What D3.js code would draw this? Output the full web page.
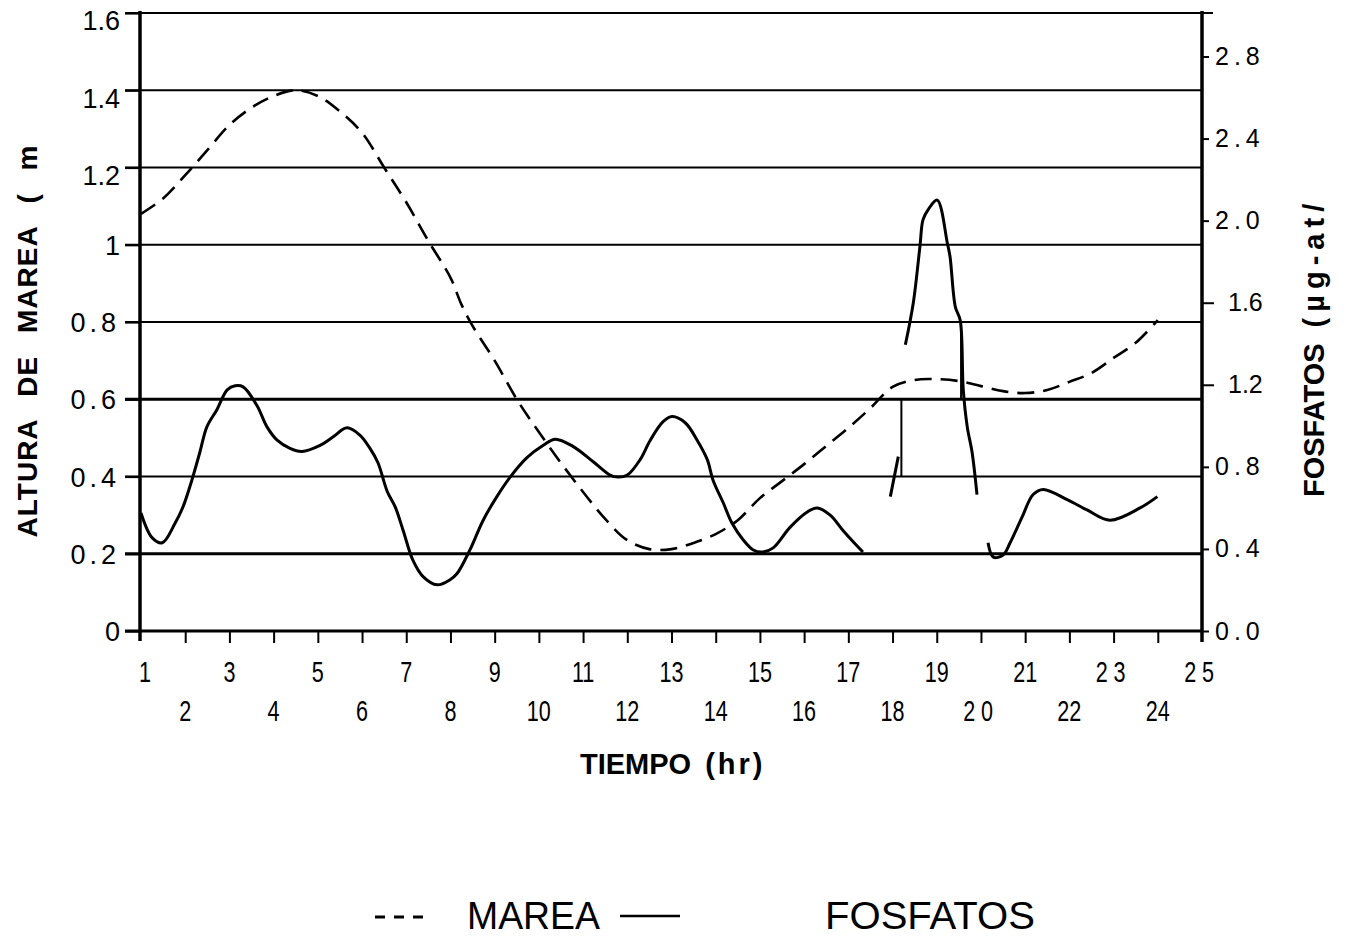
<!DOCTYPE html>
<html>
<head>
<meta charset="utf-8">
<script src="https://cdn.jsdelivr.net/npm/d3@7"></script>
<style>
  body { margin: 0; background: #fff; }
  text { fill: #000; }
</style>
</head>
<body>
<div id="chart"></div>
<script>
// ── Data ────────────────────────────────────────────────────
const horas      = d3.range(1, 26);                 // x ticks 1..25
const leftTicks  = [0, 0.2, 0.4, 0.6, 0.8, 1, 1.2, 1.4, 1.6];
const leftLabels = ["0", "0.2", "0.4", "0.6", "0.8", "1", "1.2", "1.4", "1.6"];
const rightTicks  = [0, 0.4, 0.8, 1.2, 1.6, 2.0, 2.4, 2.8];
const rightLabels = ["0.0", "0.4", "0.8", "1.2", "1.6", "2.0", "2.4", "2.8"];

// MAREA (m) — dashed, left axis
const mareaHora   = [1, 1.5, 2, 2.5, 3, 3.5, 4, 4.5, 5, 5.5, 6, 6.5, 7, 7.5, 8, 8.25, 8.5,
                     9, 9.5, 10, 10.5, 11, 11.5, 12, 12.5, 13, 13.5, 14, 14.5, 15, 15.5, 16,
                     16.5, 17, 17.5, 18, 18.5, 19, 19.5, 20, 20.5, 21, 21.5, 22, 22.5, 23, 23.5, 24];
const mareaAltura = [1.08, 1.12, 1.18, 1.245, 1.31, 1.355, 1.385, 1.40, 1.385, 1.345, 1.29, 1.20,
                     1.11, 1.01, 0.915, 0.845, 0.79, 0.70, 0.60, 0.515, 0.435, 0.36, 0.29, 0.235,
                     0.212, 0.212, 0.228, 0.251, 0.287, 0.344, 0.388, 0.432, 0.479, 0.526, 0.577,
                     0.632, 0.65, 0.652, 0.647, 0.634, 0.621, 0.616, 0.624, 0.645, 0.668, 0.707,
                     0.746, 0.805];

// FOSFATOS (µg-at/l) — solid, right axis; null = break in the trace
const fosfHora  = [1.0, 1.25, 1.48, 1.77, 1.95, 2.15, 2.33, 2.49, 2.72, 2.95, 3.13, 3.31, 3.62,
                   3.85, 4.08, 4.37, 4.64, 5.05, 5.34, 5.66, 5.95, 6.18, 6.36, 6.57, 6.75, 6.93,
                   7.15, 7.38, 7.70, 7.99, 8.15, 8.44, 8.74, 9.05, 9.35, 9.73, 10.1, 10.37, 10.77,
                   11.23, 11.61, 11.79, 12.0, 12.29, 12.52, 12.81, 13.01, 13.31, 13.58, 13.81,
                   13.94, 14.17, 14.37, 14.62, 14.85, 15.07, 15.3, 15.68, 16.07, 16.29, 16.59,
                   16.88, 17.11, 17.33, 17.6, 17.95, 18.13, 18.2, 18.29, 18.47, 18.62, 18.69,
                   18.81, 19.01, 19.24, 19.3, 19.42, 19.53, 19.6, 19.69, 19.8, 19.91, 20.0,
                   20.16, 20.28, 20.5, 20.66, 20.93, 21.18, 21.41, 21.95, 22.4, 22.92, 23.6, 23.99];
const fosfValor = [0.575, 0.455, 0.43, 0.525, 0.605, 0.735, 0.87, 0.995, 1.08, 1.175, 1.195,
                   1.19, 1.10, 0.995, 0.93, 0.89, 0.875, 0.905, 0.945, 0.99, 0.955, 0.89, 0.82,
                   0.68, 0.605, 0.49, 0.345, 0.265, 0.225, 0.25, 0.28, 0.395, 0.54, 0.655, 0.75,
                   0.845, 0.905, 0.935, 0.90, 0.825, 0.76, 0.75, 0.76, 0.835, 0.93, 1.02, 1.045,
                   1.015, 0.93, 0.835, 0.735, 0.625, 0.525, 0.445, 0.395, 0.385, 0.405, 0.505,
                   0.58, 0.60, 0.565, 0.49, 0.435, 0.385, null, 0.655, 0.85, null, 1.395, 1.60,
                   1.875, 2.005, 2.055, 2.10, 1.89, 1.825, 1.58, 1.515, 1.175, 0.995, 0.87, 0.665,
                   null, 0.43, 0.36, 0.37, 0.43, 0.555, 0.665, 0.69, 0.64, 0.59, 0.54, 0.60, 0.655];

// stray box edges printed in the scan: [hour, from m, to m]
const boxEdges = [[18.2, 0.4, 0.6], [19.55, 0.6, 0.8]];

// ── Layout ──────────────────────────────────────────────────
const W = 1347, H = 940;
const X0 = 141, X1 = 1202, Y0 = 631, Y1 = 13;
const SANS = '"Liberation Sans", Arial, sans-serif';

const x  = d3.scaleLinear().domain([1, 25]).range([X0, X1]);
const yL = d3.scaleLinear().domain([0, 1.6]).range([Y0, Y1]);
const yR = d3.scaleLinear().domain([0, 2.8 * (Y0 - Y1) / (Y0 - 56.5)]).range([Y0, Y1]);

const svg = d3.select("#chart").append("svg").attr("width", W).attr("height", H);

// Grid lines (left scale)
svg.append("g").selectAll("line").data(leftTicks.filter(d => d > 0)).join("line")
  .attr("x1", 125).attr("x2", d => d === 1.6 ? 1213 : X1)
  .attr("y1", d => yL(d)).attr("y2", d => yL(d))
  .attr("stroke", "#000")
  .attr("stroke-width", d => (d === 0.6 || d === 0.2) ? 3 : 2.2);

svg.append("g").selectAll("line").data(boxEdges).join("line")
  .attr("x1", d => x(d[0])).attr("x2", d => x(d[0]))
  .attr("y1", d => yL(d[1])).attr("y2", d => yL(d[2]))
  .attr("stroke", "#000").attr("stroke-width", 2);

// Left axis
svg.append("g").attr("transform", `translate(${X0 - 1},0)`)
  .call(d3.axisLeft(yL).tickValues(leftTicks).tickSize(15).tickPadding(5)
        .tickFormat((d, i) => leftLabels[i]))
  .call(ax => ax.select(".domain").remove())
  .call(ax => ax.selectAll("line").attr("stroke", "#000").attr("stroke-width", 2.2))
  .call(ax => ax.selectAll("text")
        .attr("font-family", SANS).attr("font-size", 27).attr("fill", "#000")
        .attr("dy", d => d >= 1.2 ? "0.62em" : "0.36em")
        .attr("letter-spacing", d => (d > 0 && d < 1) ? 4 : 0));

// Right axis
svg.append("g").attr("transform", `translate(${X1},0)`)
  .call(d3.axisRight(yR).tickValues(rightTicks).tickSize(7).tickPadding(5)
        .tickFormat((d, i) => rightLabels[i]))
  .call(ax => ax.select(".domain").remove())
  .call(ax => ax.selectAll("line").attr("stroke", "#000").attr("stroke-width", 2)
        .attr("x2", d => (d === 1.2 || d === 1.6) ? 12 : 7))
  .call(ax => ax.selectAll("text")
        .attr("font-family", SANS).attr("font-size", 25).attr("fill", "#000")
        .attr("x", d => (d === 1.2 || d === 1.6) ? 26 : 13)
        .attr("letter-spacing", d => (d === 1.2 || d === 1.6) ? 0 : 5));

// Axis lines
svg.append("line").attr("x1", X0 - 1).attr("x2", X0 - 1).attr("y1", 11).attr("y2", 641)
  .attr("stroke", "#000").attr("stroke-width", 3.5);
svg.append("line").attr("x1", X1).attr("x2", X1).attr("y1", 11).attr("y2", 642)
  .attr("stroke", "#000").attr("stroke-width", 3.5);

// Bottom axis
svg.append("g").attr("transform", `translate(0,${Y0})`)
  .call(d3.axisBottom(x).tickValues(horas.slice(1, -1)).tickSize(12).tickFormat(""))
  .call(ax => ax.select(".domain").attr("d", `M${125},0H${X1}`)
        .attr("stroke", "#000").attr("stroke-width", 3))
  .call(ax => ax.selectAll("line").attr("stroke", "#000").attr("stroke-width", 2));

// Hour labels, odd on the first row, even on the second (narrow face)
svg.append("g").selectAll("text").data(horas).join("text")
  .attr("transform", d => `translate(${x(d) + (d === 1 ? 4 : 0)},${d % 2 ? 682 : 721}) scale(0.72,1)`)
  .attr("text-anchor", "middle")
  .attr("font-family", SANS).attr("font-size", 30)
  .attr("letter-spacing", d => (d === 20 || d === 23 || d === 25) ? 8 : 0)
  .text(d => d);

// Marea (dashed)
const mareaPts = mareaHora.map((h, i) => ({ h, v: mareaAltura[i] }));
svg.append("path").datum(mareaPts)
  .attr("d", d3.line().x(d => x(d.h)).y(d => yL(d.v)).curve(d3.curveCatmullRom))
  .attr("fill", "none").attr("stroke", "#000").attr("stroke-width", 2.6)
  .attr("stroke-dasharray", "17,9");

// Fosfatos (solid)
const fosfPts = fosfHora.map((h, i) => ({ h, v: fosfValor[i] }));
svg.append("path").datum(fosfPts)
  .attr("d", d3.line().defined(d => d.v != null)
        .x(d => x(d.h)).y(d => yR(d.v)).curve(d3.curveCatmullRom))
  .attr("fill", "none").attr("stroke", "#000").attr("stroke-width", 3)
  .attr("stroke-linejoin", "round");

// Axis titles
svg.append("text").attr("transform", "translate(37,341) rotate(-90)")
  .attr("text-anchor", "middle").attr("font-family", SANS).attr("font-weight", "bold")
  .attr("font-size", 28).attr("letter-spacing", 1).attr("word-spacing", 14)
  .text("ALTURA DE MAREA ( m");

const rt = svg.append("text").attr("transform", "translate(1324,497) rotate(-90)")
  .attr("font-family", SANS).attr("font-weight", "bold").attr("font-size", 29);
rt.append("tspan").text("FOSFATOS");
rt.append("tspan").attr("dx", 16).attr("letter-spacing", 6).text("(µg-at/");

svg.append("text").attr("x", 580).attr("y", 774)
  .attr("font-family", SANS).attr("font-weight", "bold").attr("font-size", 29)
  .text("TIEMPO")
  .append("tspan").attr("dx", 14).attr("letter-spacing", 3).text("(hr)");

// Legend
svg.append("line").attr("x1", 375).attr("x2", 431).attr("y1", 917).attr("y2", 917)
  .attr("stroke", "#000").attr("stroke-width", 3).attr("stroke-dasharray", "10,9");
svg.append("text").attr("x", 467).attr("y", 929)
  .attr("font-family", SANS).attr("font-size", 39)
  .attr("textLength", 133).attr("lengthAdjust", "spacingAndGlyphs")
  .text("MAREA");
svg.append("line").attr("x1", 620).attr("x2", 680).attr("y1", 916).attr("y2", 916)
  .attr("stroke", "#000").attr("stroke-width", 2.5);
svg.append("text").attr("x", 825).attr("y", 929)
  .attr("font-family", SANS).attr("font-size", 39)
  .attr("textLength", 210).attr("lengthAdjust", "spacingAndGlyphs")
  .text("FOSFATOS");
</script>
</body>
</html>
